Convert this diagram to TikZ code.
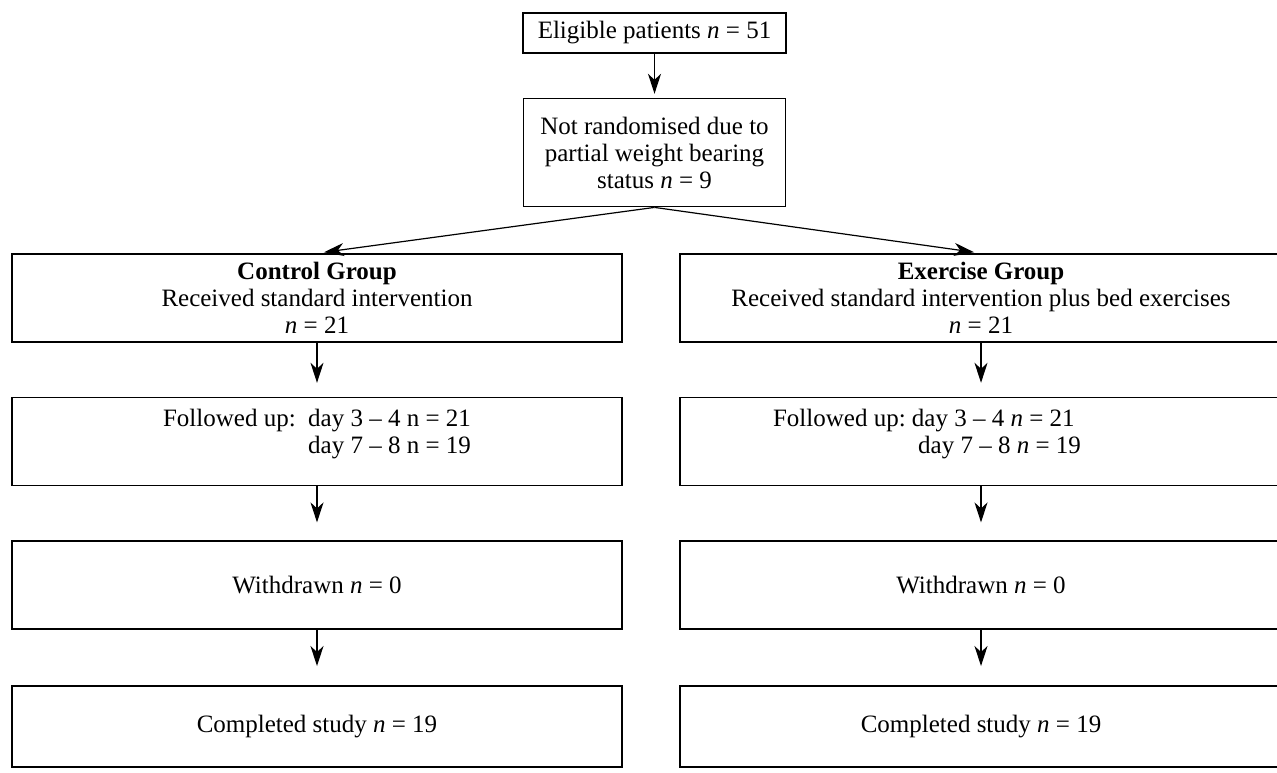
\documentclass[tikz,border=0pt]{standalone}
\usepackage{fontspec}
\setmainfont{Liberation Serif}
\usetikzlibrary{positioning,arrows.meta}

\begin{document}
\begin{tikzpicture}[
  x=0.5pt, y=-0.5pt,
  >={Stealth[length=10pt,width=6.5pt,inset=3pt]},
  box/.style={draw, line width=0.8pt, align=center, inner sep=2pt,
              font=\fontsize{12.5}{13.5}\selectfont},
  lcol/.style={box, minimum width=305pt, minimum height=44pt},   % control arm
  rcol/.style={box, minimum width=301pt, minimum height=44pt},   % exercise arm
  flow/.style={->, line width=0.6pt}
]
\useasboundingbox (0,0) rectangle (1277,772);

% ---------- screening ----------
\node[box, minimum width=131.5pt, minimum height=20pt] (elig) at (654.5,33) {Eligible patients \textit{n} = 51};
\node[box, minimum width=131pt, minimum height=54pt, below=22pt of elig] (notrand) {Not randomised due to\\partial weight bearing\\status \textit{n} = 9};

% ---------- groups ----------
\node[lcol] (ctrl) at (317,298) {\textbf{Control Group}\\Received standard intervention\\\textit{n} = 21};
\node[rcol] (exer) at (981,298) {\textbf{Exercise Group}\\Received standard intervention plus bed exercises\\\textit{n} = 21};

% ---------- follow up ----------
\node[lcol, text height=12pt, text depth=13pt, below=27pt of ctrl] (fupC)
  {\begin{tabular}{@{}l@{\ \ }l@{}}Followed up: & day 3 -- 4 n = 21\\ & day 7 -- 8 n = 19\end{tabular}};
\node[rcol, text height=12pt, text depth=13pt, below=27pt of exer] (fupE)
  {\begin{tabular}{@{}l@{\ }l@{}}Followed up: & day 3 -- 4 \textit{n} = 21\\ & \ day 7 -- 8 \textit{n} = 19\end{tabular}\hspace*{54pt}};

% ---------- withdrawn / completed ----------
\node[lcol, below=27pt of fupC] (wdrC) {Withdrawn \textit{n} = 0};
\node[rcol, below=27pt of fupE] (wdrE) {Withdrawn \textit{n} = 0};
\node[lcol, minimum height=40.5pt, below=27.5pt of wdrC] (cmpC) {Completed study \textit{n} = 19};
\node[rcol, minimum height=40.5pt, below=27.5pt of wdrE] (cmpE) {Completed study \textit{n} = 19};

% ---------- arrows ----------
\draw[flow, shorten >=2pt] (elig) -- (notrand);
\draw[flow, shorten >=3.5pt] (notrand.south) -- (ctrl.north);
\draw[flow, shorten >=3.5pt] (notrand.south) -- (exer.north);
\draw[flow, shorten >=7pt] (ctrl) -- (fupC);
\draw[flow, shorten >=7pt] (exer) -- (fupE);
\draw[flow, shorten >=9pt] (fupC) -- (wdrC);
\draw[flow, shorten >=9pt] (fupE) -- (wdrE);
\draw[flow, shorten >=9.5pt] (wdrC) -- (cmpC);
\draw[flow, shorten >=9.5pt] (wdrE) -- (cmpE);
\end{tikzpicture}
\end{document}
